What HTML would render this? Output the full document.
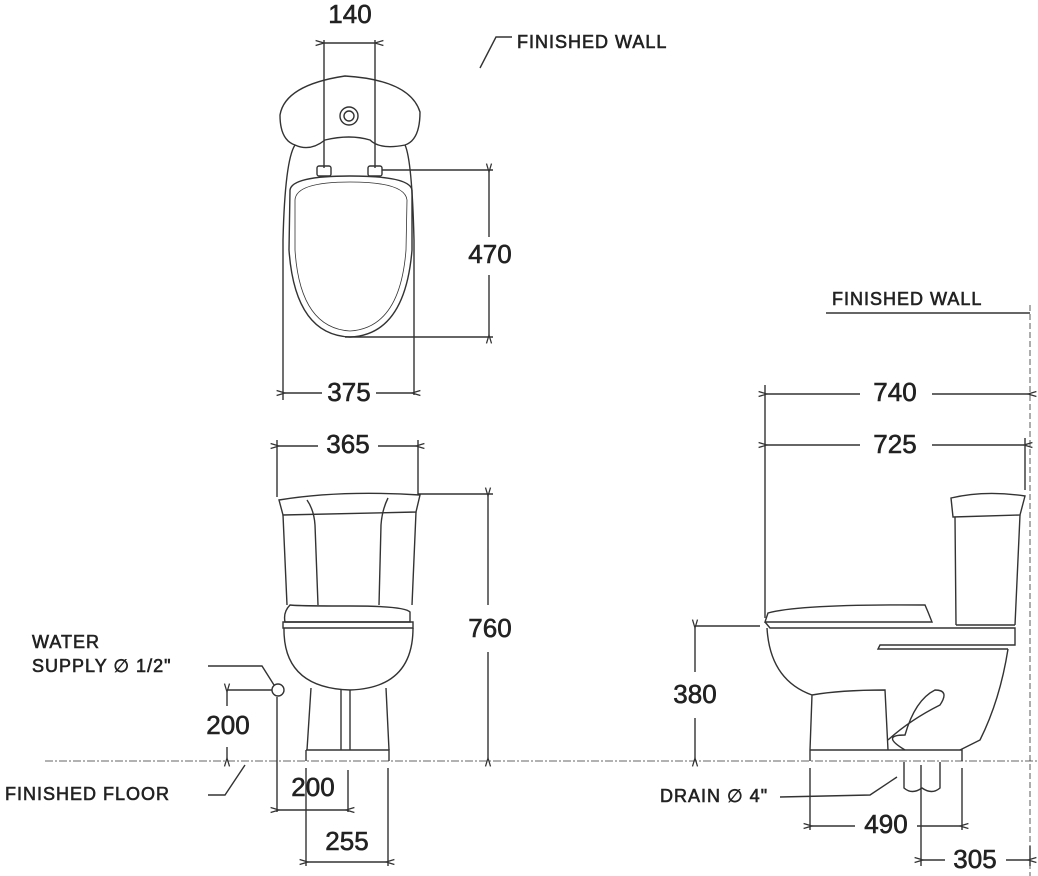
<!DOCTYPE html>
<html><head><meta charset="utf-8"><style>
html,body{margin:0;padding:0;background:#fff;}
svg{display:block}
text{font-family:"Liberation Sans",Arial,sans-serif;fill:#222;stroke:#222;stroke-width:0.6;}
.n{font-size:26px;text-anchor:middle;dominant-baseline:middle;}
.l{font-size:18px;letter-spacing:1px;}
</style></head><body>
<svg width="1038" height="876" viewBox="0 0 1038 876" xmlns="http://www.w3.org/2000/svg">
<defs>
<marker id="a" viewBox="0 0 10 10" refX="0" refY="5" markerWidth="8" markerHeight="6" orient="auto-start-reverse"><path d="M10,2 L0,5 L10,8" fill="none" stroke="#333" stroke-width="1.5"/></marker>
</defs>
<g fill="none" stroke="#333" stroke-width="1.4">
<!-- TOP VIEW -->
<path d="M283,395 L283,240 Q285,160 295,145"/>
<path d="M414,395 L414,240 Q412,160 405,145"/>
<path d="M295,145 Q280,140 280,115 Q285,85 345,76 Q410,80 420,112 Q420,140 405,145 Q380,150 370,140 Q350,134 325,140 Q310,152 295,145Z"/>
<circle cx="349" cy="116" r="9"/><circle cx="349" cy="116" r="5"/>
<rect x="317" y="166" width="14" height="10" rx="2"/>
<rect x="368" y="166" width="14" height="10" rx="2"/>
<path d="M290,190 Q292,176 350,176 Q410,176 412,190 L412,250 Q405,335 350,337 Q295,335 289,250Z"/>
<path d="M295,200 Q296,182 350,182 Q405,182 407,200 L406,250 Q400,328 350,331 Q300,328 295,250Z" stroke-width="0.8"/>
<line x1="324" y1="40" x2="324" y2="168"/><line x1="375" y1="40" x2="375" y2="168"/>
<line x1="324" y1="43" x2="375" y2="43" marker-start="url(#a)" marker-end="url(#a)"/>
<line x1="382" y1="170" x2="493" y2="170"/><line x1="345" y1="337" x2="493" y2="337"/>
<line x1="489" y1="172" x2="489" y2="237" marker-start="url(#a)"/>
<line x1="489" y1="275" x2="489" y2="335" marker-end="url(#a)"/>
<line x1="283" y1="395" x2="283" y2="400"/>
<line x1="285" y1="393" x2="322" y2="393" marker-start="url(#a)"/>
<line x1="376" y1="393" x2="412" y2="393" marker-end="url(#a)"/>
<path d="M512,37 L496,37 L480,68"/>

<!-- FRONT VIEW -->
<line x1="277" y1="440" x2="277" y2="497"/><line x1="418" y1="440" x2="418" y2="495"/>
<line x1="279" y1="446" x2="318" y2="446" marker-start="url(#a)"/>
<line x1="378" y1="446" x2="416" y2="446" marker-end="url(#a)"/>
<path d="M279,500 Q340,490 420,495 L416,512 L283,515Z"/>
<path d="M283,515 L287,605 M416,512 L412,605"/>
<path d="M307,500 Q314,510 315,525 L318,605 M388,498 Q382,510 381,525 L379,605"/>
<path d="M290,605 Q298,606 350,606 Q405,606 410,612 L410,622 L285,622 Q283,612 290,605Z"/>
<path d="M283,622 L413,622 L413,628 L283,628Z"/>
<path d="M284,628 Q283,688 350,690 Q413,688 413,628"/>
<path d="M311,688 L307,750 M386,688 L389,750 M341,690 L341,750 M350,690 L350,750"/>
<path d="M306,750 L389,750 L389,761 M306,750 L306,761"/>
<line x1="418" y1="494" x2="493" y2="494"/>
<line x1="488" y1="496" x2="488" y2="605" marker-start="url(#a)"/>
<line x1="488" y1="652" x2="488" y2="758" marker-end="url(#a)"/>
<circle cx="278" cy="690" r="6"/>
<path d="M208,666 L262,666 L274,685"/>
<path d="M272,690 L227,690"/>
<line x1="277" y1="697" x2="277" y2="812"/>
<line x1="227" y1="692" x2="227" y2="706" marker-start="url(#a)"/>
<line x1="227" y1="747" x2="227" y2="758" marker-end="url(#a)"/>
<path d="M208,795 L225,795 L245,765"/>
<line x1="348" y1="770" x2="348" y2="812"/>
<line x1="279" y1="810" x2="346" y2="810" marker-start="url(#a)" marker-end="url(#a)"/>
<line x1="306" y1="768" x2="306" y2="866"/><line x1="388" y1="768" x2="388" y2="866"/>
<line x1="308" y1="862" x2="386" y2="862" marker-start="url(#a)" marker-end="url(#a)"/>

<!-- SIDE VIEW -->
<line x1="1030" y1="305" x2="1030" y2="876" stroke-dasharray="6,3" stroke-width="0.8"/>
<line x1="826" y1="313" x2="1030" y2="313"/>
<line x1="765" y1="385" x2="765" y2="618"/>
<line x1="767" y1="394" x2="860" y2="394" marker-start="url(#a)"/>
<line x1="932" y1="394" x2="1028" y2="394" marker-end="url(#a)"/>
<line x1="767" y1="445" x2="860" y2="445" marker-start="url(#a)"/>
<line x1="932" y1="445" x2="1024" y2="445" marker-end="url(#a)"/>
<line x1="1025" y1="438" x2="1025" y2="490"/>
<path d="M951,498 Q985,490 1025,496 L1020,515 L953,517Z"/>
<path d="M955,517 L956,625 M1020,515 L1015,625 M956,625 L1015,625"/>
<path d="M768,613 Q800,604 925,605 L928,612 L932,622 L765,622Z"/>
<path d="M765,622 L770,628 L1015,628 L1015,645 L880,645 L878,649 L1008,649"/>
<path d="M767,628 Q770,680 812,695 L810,750 M812,695 Q840,690 885,690 L888,750"/>
<path d="M1008,649 Q1000,700 980,740 L960,750 M888,740 Q910,720 940,705 Q950,690 935,690 Q915,700 905,735 Q880,735 905,750"/>
<path d="M810,750 L962,750 L962,761 M810,750 L810,761"/>
<path d="M904,762 L904,788 Q912,795 922,788 Q932,795 940,788 L940,762"/>
<line x1="921" y1="765" x2="921" y2="866"/>
<path d="M780,797 L870,795 L897,777"/>
<line x1="695" y1="626" x2="760" y2="626"/>
<line x1="695" y1="628" x2="695" y2="672" marker-start="url(#a)"/>
<line x1="695" y1="718" x2="695" y2="758" marker-end="url(#a)"/>
<line x1="810" y1="768" x2="810" y2="830"/><line x1="962" y1="768" x2="962" y2="830"/>
<line x1="812" y1="826" x2="855" y2="826" marker-start="url(#a)"/>
<line x1="917" y1="826" x2="960" y2="826" marker-end="url(#a)"/>
<line x1="1030" y1="846" x2="1030" y2="866"/>
<line x1="923" y1="860" x2="945" y2="860" marker-start="url(#a)"/>
<line x1="1006" y1="860" x2="1028" y2="860" marker-end="url(#a)"/>
<line x1="45" y1="761" x2="1038" y2="761" stroke-dasharray="8,2,2,2" stroke-width="0.8"/>
</g>
<g>
<text class="n" x="350" y="16">140</text>
<text class="n" x="490" y="256">470</text>
<text class="n" x="349" y="394">375</text>
<text class="n" x="348" y="446">365</text>
<text class="n" x="490" y="630">760</text>
<text class="n" x="228" y="727">200</text>
<text class="n" x="313" y="789">200</text>
<text class="n" x="347" y="843">255</text>
<text class="n" x="895" y="394">740</text>
<text class="n" x="895" y="446">725</text>
<text class="n" x="695" y="696">380</text>
<text class="n" x="886" y="826">490</text>
<text class="n" x="975" y="861">305</text>
<text class="l" x="517" y="48">FINISHED WALL</text>
<text class="l" x="832" y="305">FINISHED WALL</text>
<text class="l" x="32" y="648">WATER</text>
<text class="l" x="32" y="672">SUPPLY ∅ 1/2"</text>
<text class="l" x="5" y="800">FINISHED FLOOR</text>
<text class="l" x="660" y="802">DRAIN ∅ 4"</text>
</g>
</svg>
</body></html>
